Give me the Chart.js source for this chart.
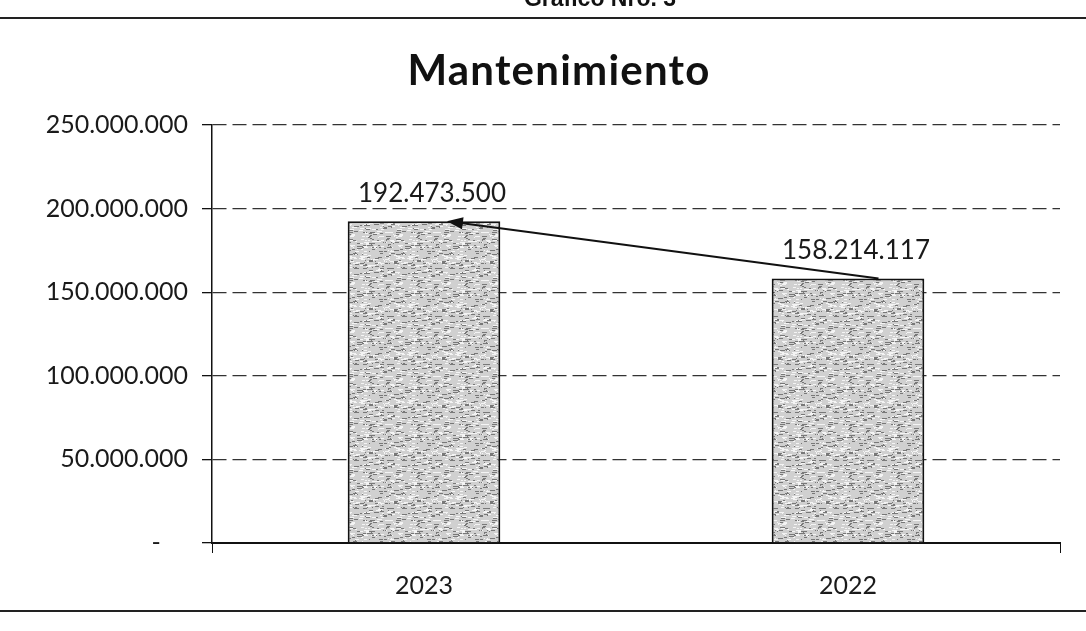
<!DOCTYPE html>
<html>
<head>
<meta charset="utf-8">
<script src="https://cdn.jsdelivr.net/npm/chart.js@4.4.1/dist/chart.umd.min.js"></script>
<style>
  html, body { margin: 0; padding: 0; background: #fff; }
  #wrap { position: relative; width: 1086px; height: 631px; overflow: hidden; }
  #chart { position: absolute; left: 0; top: 0; }
  #header {
    position: absolute; left: 500px; width: 200px; top: -13px; text-align: center;
    font: bold 23px "Liberation Sans", Arial, sans-serif; color: #111; line-height: 23px;
  }
  #title {
    position: absolute; left: 359px; width: 400px; top: 44px; text-align: center;
    font: bold 42px Lato, "Open Sans", sans-serif; letter-spacing: 1.2px; color: #111; line-height: 50px;
  }
  #topline { position: absolute; left: 0; top: 17px; width: 1086px; border-top: 2px solid #222; }
  #bottomline { position: absolute; left: 0; top: 610px; width: 1086px; border-top: 2px solid #222; }
</style>
</head>
<body>
<div id="wrap">
  <canvas id="chart" width="1086" height="631"></canvas>
  <div id="header">Grafico Nro. 3</div>
  <div id="topline"></div>
  <div id="title">Mantenimiento</div>
  <div id="bottomline"></div>
</div>
<script>
// Chart data
const categories = ['2023', '2022'];
const values = [192473500, 158214117];
const yTicks = [0, 50000000, 100000000, 150000000, 200000000, 250000000];

const fontFamily = 'Lato, "Open Sans", sans-serif';

// Format number with dots as thousand separators, zero as a dash (accounting style)
function formatNumber(v) {
  if (v === 0) return '-\u2007  ';
  return Math.round(v).toString().replace(/\B(?=(\d{3})+(?!\d))/g, '.');
}

// Grey speckled fill like the scanned bars (fixed seed, texture only)
function makePattern() {
  const c = document.createElement('canvas');
  c.width = 48; c.height = 48;
  const g = c.getContext('2d');
  g.fillStyle = '#d0d0d0';
  g.fillRect(0, 0, 48, 48);
  let s = 7;
  const next = () => { s = (s * 1103515245 + 12345) % 2147483648; return s / 2147483648; };
  for (let i = 0; i < 260; i++) {
    const x = Math.floor(next() * 48);
    const y = Math.floor(next() * 48);
    const w = 1 + Math.floor(next() * 5);
    g.fillStyle = next() < 0.5 ? '#787878' : '#f4f4f4';
    g.fillRect(x, y, w, 1);
  }
  return g.createPattern(c, 'repeat');
}

// Value labels above bars
const valueLabels = {
  id: 'valueLabels',
  afterDatasetsDraw(chart) {
    const ctx = chart.ctx;
    const meta = chart.getDatasetMeta(0);
    ctx.save();
    ctx.font = '26px ' + fontFamily;
    ctx.fillStyle = '#1a1a1a';
    ctx.textAlign = 'center';
    ctx.textBaseline = 'bottom';
    meta.data.forEach((bar, i) => {
      ctx.fillText(formatNumber(values[i]), bar.x + 8, bar.y - 15);
    });
    ctx.restore();
  }
};

// Arrow from the 2022 bar top to the 2023 bar top
const trendArrow = {
  id: 'trendArrow',
  afterDatasetsDraw(chart) {
    const ctx = chart.ctx;
    const meta = chart.getDatasetMeta(0);
    const a = meta.data[1];
    const b = meta.data[0];
    const x1 = a.x + a.width * 0.2, y1 = a.y;
    const x2 = b.x + b.width * 0.15, y2 = b.y;
    const ang = Math.atan2(y2 - y1, x2 - x1);
    const c = Math.cos(ang), s = Math.sin(ang);
    ctx.save();
    ctx.strokeStyle = '#111';
    ctx.fillStyle = '#111';
    ctx.lineWidth = 2;
    ctx.beginPath();
    ctx.moveTo(x1, y1);
    ctx.lineTo(x2 - 10 * c, y2 - 10 * s);
    ctx.stroke();
    ctx.beginPath();
    ctx.moveTo(x2, y2);
    ctx.lineTo(x2 - 16 * c + 6 * s, y2 - 16 * s - 6 * c);
    ctx.lineTo(x2 - 16 * c - 6 * s, y2 - 16 * s + 6 * c);
    ctx.closePath();
    ctx.fill();
    ctx.restore();
  }
};

const ctx = document.getElementById('chart').getContext('2d');
const chart = new Chart(ctx, {
  type: 'bar',
  data: {
    labels: categories,
    datasets: [{
      data: values,
      backgroundColor: makePattern(),
      borderColor: '#111',
      borderWidth: 2,
      borderSkipped: 'bottom',
      categoryPercentage: 1,
      barPercentage: 0.36
    }]
  },
  options: {
    responsive: false,
    animation: false,
    layout: { padding: { left: 0, right: 26, top: 125, bottom: 0 } },
    plugins: {
      legend: { display: false },
      tooltip: { enabled: false },
      title: { display: false }
    },
    scales: {
      y: {
        min: 0,
        max: 250000000,
        afterBuildTicks(scale) {
          scale.ticks = yTicks.map(v => ({ value: v }));
        },
        afterFit(scale) { scale.width = 212; },
        border: { display: true, color: '#111', width: 1.5, dash: [14, 6] },
        grid: {
          color: '#333',
          lineWidth: 1.3,
          tickLength: 10,
          tickColor: '#111'
        },
        ticks: {
          color: '#1a1a1a',
          padding: 14,
          font: { family: fontFamily, size: 25 },
          callback: v => formatNumber(v)
        }
      },
      x: {
        afterFit(scale) { scale.height = 88; },
        border: { display: true, color: '#111', width: 2 },
        grid: {
          drawOnChartArea: false,
          tickLength: 10,
          color: c => (c.index === 1 ? 'rgba(0,0,0,0)' : '#111')
        },
        ticks: {
          color: '#1a1a1a',
          padding: 18,
          font: { family: fontFamily, size: 25 }
        }
      }
    }
  },
  plugins: [valueLabels, trendArrow]
});
</script>
</body>
</html>
